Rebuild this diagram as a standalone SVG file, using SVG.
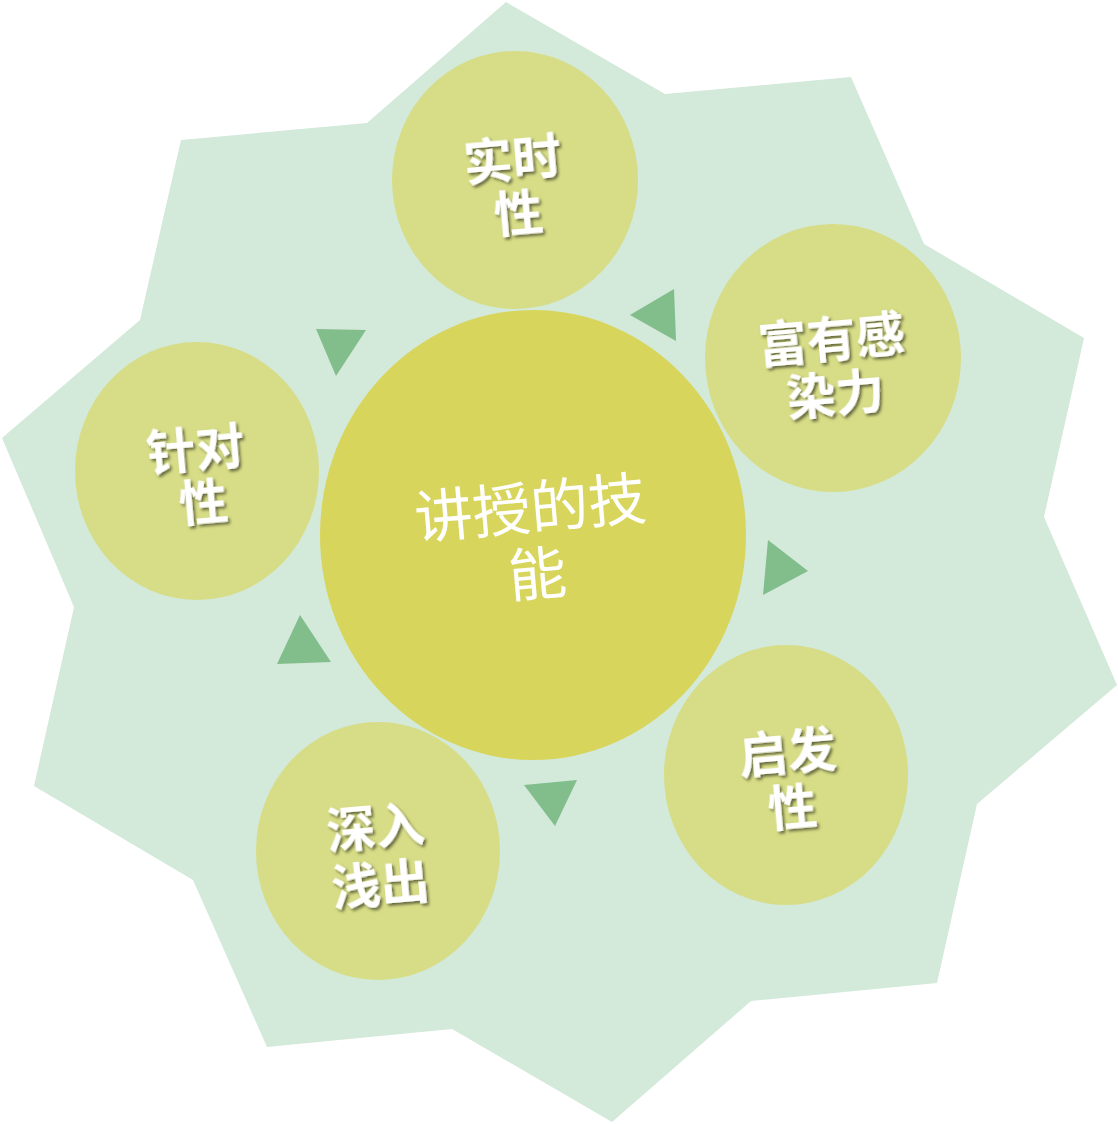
<svg xmlns="http://www.w3.org/2000/svg" width="1118" height="1124" viewBox="0 0 1118 1124">
<defs>
<filter id="sh" x="-20%" y="-20%" width="140%" height="140%">
<feDropShadow dx="2" dy="2.5" stdDeviation="1.6" flood-color="#000" flood-opacity="0.55"/>
</filter>
<style>
.star{fill:#d3e9d9}
.core{fill:#d8d55c}
.sat{fill:#d7dd86}
.arr{fill:#82bd8c}
.lbl{font-family:"Noto Sans CJK SC","Noto Sans CJK TC",sans-serif;font-weight:bold;font-size:49px;fill:#fff;text-anchor:middle;dominant-baseline:central;filter:url(#sh)}
.ctr{font-family:"Noto Sans CJK SC","Noto Sans CJK TC",sans-serif;font-size:58px;fill:#fff;text-anchor:middle;dominant-baseline:central}
</style>
</defs>
<g id="background">
<polygon class="star" points="506,2 665,94 851,77 924,244 1084,338 1044,517 1117,685 977,804 937,983 751,1001 612,1122 452,1029 267,1047 193,880 34,786 74,607 2,438 140,320 181,140 367,123"/>
</g>
<g id="connectors">
<polygon class="arr" points="630,315 674,289 676,341"/>
<polygon class="arr" points="768,540 808,571 763,595"/>
<polygon class="arr" points="524,785 577,780 555,826"/>
<polygon class="arr" points="300,615 277,664 331,662"/>
<polygon class="arr" points="316,329 366,330 336,376"/>
</g>
<g id="node-center">
<ellipse class="core" cx="533" cy="535" rx="213" ry="225"/>
<text class="ctr" x="530" y="504" transform="rotate(-5 530 504)">讲授的技</text>
<text class="ctr" x="537" y="570" transform="rotate(-5 537 570)">能</text>
</g>
<g id="node-shishixing">
<ellipse class="sat" cx="515" cy="180" rx="123" ry="129"/>
<text class="lbl" x="512" y="155" transform="rotate(-5 512 155)">实时</text>
<text class="lbl" x="518" y="209" transform="rotate(-5 518 209)">性</text>
</g>
<g id="node-fuyouganranli">
<ellipse class="sat" cx="833" cy="358" rx="128" ry="134"/>
<text class="lbl" x="831" y="335" transform="rotate(-5 831 335)">富有感</text>
<text class="lbl" x="835" y="390" transform="rotate(-5 835 390)">染力</text>
</g>
<g id="node-qifaxing">
<ellipse class="sat" cx="786" cy="775" rx="122" ry="130"/>
<text class="lbl" x="787" y="748" transform="rotate(-5 787 748)">启发</text>
<text class="lbl" x="792" y="803" transform="rotate(-5 792 803)">性</text>
</g>
<g id="node-shenruqianchu">
<ellipse class="sat" cx="378" cy="851" rx="122" ry="129"/>
<text class="lbl" x="375" y="823" transform="rotate(-5 375 823)">深入</text>
<text class="lbl" x="380" y="880" transform="rotate(-5 380 880)">浅出</text>
</g>
<g id="node-zhenduixing">
<ellipse class="sat" cx="197" cy="471" rx="122" ry="129"/>
<text class="lbl" x="195" y="445" transform="rotate(-5 195 445)">针对</text>
<text class="lbl" x="203" y="498" transform="rotate(-5 203 498)">性</text>
</g>
</svg>
